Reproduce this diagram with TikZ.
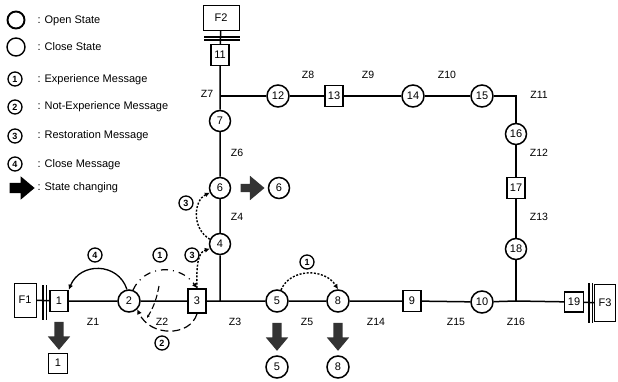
\documentclass[tikz,border=0pt]{standalone}
\usepackage{fontspec}
\setmainfont{Liberation Sans}
\usetikzlibrary{arrows.meta,shapes.arrows,positioning}

\begin{document}
\begin{tikzpicture}[x=1pt,y=-1pt,
  font=\fontsize{10}{12}\selectfont,
  st/.style={draw,circle,line width=1.5pt,minimum size=22pt,inner sep=0pt,fill=white,
             font=\fontsize{11}{12}\selectfont},
  sw/.style={draw,rectangle,line width=1.2pt,minimum width=18pt,minimum height=21pt,inner sep=0pt,fill=white,
             font=\fontsize{11}{12}\selectfont},
  feed/.style={draw,rectangle,line width=1pt,minimum width=22pt,minimum height=34pt,inner sep=0pt,
             font=\fontsize{11}{12}\selectfont},
  msg/.style={draw,circle,line width=1.3pt,inner sep=0pt,minimum size=14pt,
              font=\fontsize{9}{10}\selectfont\bfseries,fill=white},
  zlab/.style={font=\fontsize{10.5}{12}\selectfont},
  legtxt/.style={anchor=west,font=\fontsize{11}{13}\selectfont},
  line/.style={line width=1.5pt},
  bar/.style={line width=1.2pt},
  dotarr/.style={-{Latex[length=5pt,width=5pt]},line width=1.4pt,dash pattern=on 2pt off 1.6pt},
  chg/.style={single arrow,draw=none,fill=black!80,inner xsep=0pt,inner ysep=4.5pt,
              minimum height=28pt,single arrow head extend=6.5pt,single arrow tip angle=80}
]
\useasboundingbox (0,0) rectangle (618,382);

% legend
\node[st,minimum size=17pt,line width=1.9pt] (lopen) at (16,20) {};
\node[legtxt] (topen) at (34,21) {: Open State};
\node[st,minimum size=18pt,line width=1.4pt] (lclose) at (16,47) {};
\node[legtxt] (tclose) at (34,47) {: Close State};
\node[msg] (lm1) at (15,79) {1};
\node[legtxt] (tm1) at (34,80) {: Experience Message};
\node[msg] (lm2) at (15,107) {2};
\node[legtxt] (tm2) at (34,107) {: Not-Experience Message};
\node[msg] (lm3) at (15,136) {3};
\node[legtxt] (tm3) at (34,136) {: Restoration Message};
\node[msg] (lm4) at (15,164) {4};
\node[legtxt] (tm4) at (34,165) {: Close Message};
\node[chg,fill=black,minimum height=25pt,inner ysep=5pt] (lchg) at (19,188) {};
\node[legtxt] (tchg) at (34,188) {: State changing};

% feeders
\node[feed] (f1) at (25,300) {F1};
\node[feed,minimum width=36pt,minimum height=25pt] (f2) at (221,18) {F2};
\node[feed,minimum width=21pt,minimum height=37pt] (f3) at (605,303) {F3};

% switches and states
\node[sw,line width=1.6pt] (n1) at (59,301) {1};
\node[st] (n2) at (129,301) {2};
\node[sw,line width=1.6pt,minimum height=24pt] (n3) at (197,301) {3};
\coordinate (j3) at (220,301);
\node[st,minimum size=21pt] (n4) at (220,244) {4};
\node[st,minimum size=21pt] (n6) at (220,188) {6};
\node[st,minimum size=21pt] (n7) at (220,121) {7};
\coordinate (j7) at (220,96);
\node[sw] (n11) at (220,55) {11};
\node[st] (n12) at (278,96) {12};
\node[sw] (n13) at (334,96) {13};
\node[st] (n14) at (413,96) {14};
\node[st] (n15) at (482,96) {15};
\coordinate (j11) at (516,96);
\node[st,minimum size=21pt] (n16) at (516,134) {16};
\node[sw] (n17) at (516,188) {17};
\node[st,minimum size=21pt] (n18) at (516,249) {18};
\coordinate (j16) at (516,301);
\node[st] (n5) at (277,301) {5};
\node[st] (n8) at (338,301) {8};
\node[sw] (n9) at (412,301) {9};
\node[st] (n10) at (482,302) {10};
\node[sw,minimum width=19pt,minimum height=20pt] (n19) at (574,302) {19};

% lines
\draw[line] (f1) -- (n1) -- (n2) -- (n3) -- (j3) -- (n5) -- (n8) -- (n9) -- (n10) -- (j16) -- (n19) -- (f3);
\draw[line] (j3) -- (n4) -- (n6) -- (n7) -- (j7) -- (n11) -- (f2);
\draw[line] (j7) -- (n12) -- (n13) -- (n14) -- (n15) -- (j11) -- (n16) -- (n17) -- (n18) -- (j16);

% breaker bars
\draw[bar] (43,285) -- (43,320) (46.5,285) -- (46.5,320);
\draw[bar] (204,37) -- (240,37) (204,40) -- (240,40);
\draw[bar] (589,283) -- (589,323) (592.5,283) -- (592.5,323);

% zone labels
\node[zlab] (z1) at (93,322) {Z1};
\node[zlab] (z2) at (162,322) {Z2};
\node[zlab] (z3) at (235,322) {Z3};
\node[zlab] (z4) at (237,217) {Z4};
\node[zlab] (z5) at (307,322) {Z5};
\node[zlab] (z6) at (237,153) {Z6};
\node[zlab] (z7) at (207,94) {Z7};
\node[zlab] (z8) at (308,75) {Z8};
\node[zlab] (z9) at (368,75) {Z9};
\node[zlab] (z10) at (447,75) {Z10};
\node[zlab] (z11) at (539,95) {Z11};
\node[zlab] (z12) at (539,153) {Z12};
\node[zlab] (z13) at (539,217) {Z13};
\node[zlab] (z14) at (376,322) {Z14};
\node[zlab] (z15) at (456,322) {Z15};
\node[zlab] (z16) at (516,322) {Z16};

% messages
\draw[-{Latex[length=5pt,width=5pt]},line width=1.3pt] (n2.100) .. controls (118,262) and (80,262) .. (n1.north east);
\node[msg] (m4) at (95,255) {4};
\draw[-{Latex[length=5pt,width=5pt]},line width=1.2pt,dash pattern=on 7pt off 5pt on 1pt off 5pt]
  (n2.70) .. controls (145,264) and (180,264) .. (n3.north);
\node[msg] (m1a) at (160,255) {1};
\coordinate (d1) at (159,286);
\coordinate (d2) at (147,318);
\draw[-{Latex[length=3pt,width=3pt]},line width=1.1pt,dash pattern=on 6pt off 3pt] (d1) to[bend left=10] (d2);
\draw[-{Latex[length=5pt,width=5pt]},line width=1.2pt,dash pattern=on 8pt off 4pt]
  (n3.south) .. controls (190,337) and (150,337) .. (n2.-45);
\node[msg] (m2) at (162,343) {2};
\draw[dotarr] (n3.north) .. controls (196,262) and (199,252) .. (n4.205);
\node[msg] (m3a) at (192,255) {3};
\draw[dotarr] (n4.155) .. controls (191,228) and (194,200) .. (n6.205);
\node[msg] (m3b) at (186,203) {3};
\draw[dotarr] (n5.70) .. controls (290,268) and (325,268) .. (n8.north);
\node[msg] (m1b) at (307,262) {1};

% state changes
\node[chg,rotate=-90] (a1) at (59,333) {};
\node[sw,line width=1pt,minimum width=19pt,minimum height=20pt] (n1b) at (58,363) {1};
\node[chg,rotate=-90] (a5) at (277,334) {};
\node[st] (n5b) at (277,367) {5};
\node[chg,rotate=-90] (a8) at (338,334) {};
\node[st] (n8b) at (338,367) {8};
\node[chg,minimum height=24pt,inner ysep=4pt,single arrow head extend=8pt] (a6) at (250,188) {};
\node[st,minimum size=21pt] (n6b) at (279,188) {6};
\end{tikzpicture}
\end{document}
